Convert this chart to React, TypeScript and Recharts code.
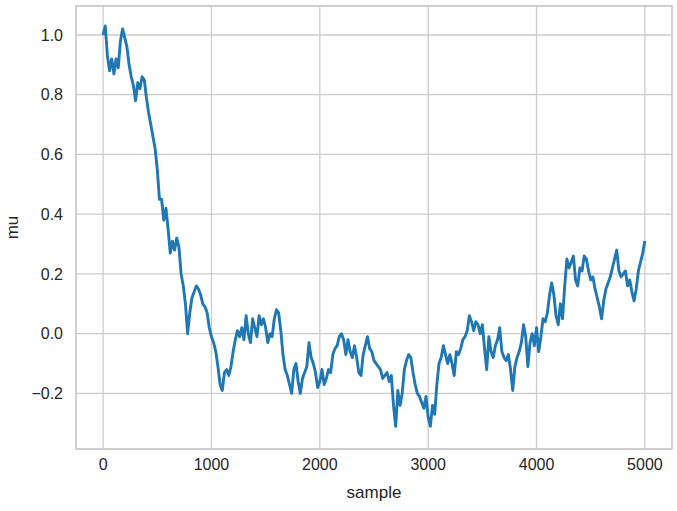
import React from 'react';
import { LineChart, Line, XAxis, YAxis, CartesianGrid, ReferenceArea } from 'recharts';

// sample index step between consecutive readings
const SAMPLE_STEP = 20;
const LAST_SAMPLE = 4999;

// mu values, one every 20 samples (0 .. 4980), then the final sample
const mu0to980 = [
  1.00, 1.03, 0.93, 0.88, 0.92, 0.87, 0.92, 0.89, 0.98, 1.02,
  0.99, 0.96, 0.90, 0.86, 0.83, 0.78, 0.84, 0.82, 0.86, 0.85,
  0.79, 0.74, 0.70, 0.66, 0.62, 0.55, 0.45, 0.45, 0.38, 0.42,
  0.35, 0.27, 0.31, 0.28, 0.32, 0.29, 0.20, 0.16, 0.10, 0.00,
  0.07, 0.12, 0.14, 0.16, 0.15, 0.13, 0.10, 0.09, 0.07, 0.02,
];
const mu1000to1980 = [
  -0.01, -0.03, -0.06, -0.11, -0.17, -0.19, -0.13, -0.12, -0.14, -0.11,
  -0.06, -0.02, 0.01, -0.01, 0.02, -0.02, 0.06, 0.00, -0.03, 0.05,
  0.02, -0.01, 0.06, 0.03, 0.05, 0.02, -0.03, 0.00, -0.01, 0.05,
  0.08, 0.07, 0.01, -0.07, -0.12, -0.14, -0.17, -0.20, -0.12, -0.10,
  -0.16, -0.20, -0.15, -0.13, -0.11, -0.03, -0.08, -0.10, -0.13, -0.18,
];
const mu2000to2980 = [
  -0.16, -0.12, -0.17, -0.15, -0.12, -0.13, -0.07, -0.05, -0.04, -0.01,
  0.00, -0.02, -0.07, -0.02, -0.06, -0.08, -0.04, -0.08, -0.13, -0.14,
  -0.07, -0.04, -0.01, -0.05, -0.06, -0.09, -0.10, -0.11, -0.12, -0.15,
  -0.14, -0.13, -0.16, -0.14, -0.24, -0.31, -0.19, -0.24, -0.20, -0.12,
  -0.09, -0.07, -0.08, -0.13, -0.17, -0.20, -0.21, -0.23, -0.25, -0.21,
];
const mu3000to3980 = [
  -0.28, -0.31, -0.24, -0.27, -0.17, -0.10, -0.08, -0.04, -0.07, -0.10,
  -0.07, -0.10, -0.14, -0.06, -0.07, -0.05, -0.02, -0.01, 0.01, 0.06,
  0.04, 0.01, 0.04, 0.03, 0.00, 0.03, -0.05, -0.12, -0.01, -0.06,
  -0.08, -0.04, -0.02, 0.02, -0.06, -0.08, -0.09, -0.07, -0.12, -0.19,
  -0.11, -0.08, -0.06, -0.03, 0.03, -0.01, -0.11, -0.03, 0.00, -0.04,
];
const mu4000to4980 = [
  0.02, -0.06, -0.01, 0.05, 0.04, 0.07, 0.13, 0.17, 0.13, 0.06,
  0.03, 0.10, 0.05, 0.16, 0.25, 0.22, 0.24, 0.26, 0.18, 0.16,
  0.22, 0.21, 0.26, 0.25, 0.21, 0.18, 0.19, 0.15, 0.12, 0.09,
  0.05, 0.11, 0.15, 0.17, 0.19, 0.22, 0.25, 0.28, 0.21, 0.19,
  0.20, 0.21, 0.16, 0.18, 0.14, 0.11, 0.15, 0.21, 0.24, 0.27,
];
const muLast = 0.31;

const xTicks = [0, 1000, 2000, 3000, 4000, 5000];
const yTicks = [-0.2, 0.0, 0.2, 0.4, 0.6, 0.8, 1.0];
const xDomain = [-250, 5250];
const yDomain = [-0.386, 1.097];

const muSeries = [...mu0to980, ...mu1000to1980, ...mu2000to2980, ...mu3000to3980, ...mu4000to4980];
const data = [
  ...muSeries.map((v, i) => ({ sample: i * SAMPLE_STEP, mu: v })),
  { sample: LAST_SAMPLE, mu: muLast },
];

const FONT = '"Liberation Sans", Arial, "DejaVu Sans", sans-serif';
const TEXT = '#262626';
const GRID = '#cccccc';

const fmtY = (v: number) => {
  const s = Math.abs(v).toFixed(1);
  return v < -1e-9 ? '\u2212' + s : s;
};

export default function App() {
  return (
    <div style={{ position: 'absolute', left: 0, top: 0, width: 677, height: 511, background: '#fff' }}>
      <LineChart
        width={677}
        height={511}
        data={data}
        margin={{ top: 6, right: 5, left: 0, bottom: 0 }}
        style={{ fontFamily: FONT }}
      >
        <CartesianGrid stroke={GRID} strokeWidth={1.3} />
        <ReferenceArea
          x1={xDomain[0]}
          x2={xDomain[1]}
          y1={yDomain[0]}
          y2={yDomain[1]}
          fill="none"
          fillOpacity={0}
          stroke={GRID}
          strokeWidth={1.5}
          ifOverflow="visible"
        />
        <XAxis
          dataKey="sample"
          type="number"
          domain={xDomain}
          ticks={xTicks}
          allowDataOverflow
          height={62}
          axisLine={false}
          tickLine={false}
          tickSize={8}
          tickMargin={2}
          tick={{ fill: TEXT, fontSize: 16, fontFamily: FONT }}
          label={{ value: 'sample', position: 'center', dy: 12, fill: TEXT, fontSize: 17, fontFamily: FONT }}
        />
        <YAxis
          type="number"
          domain={yDomain}
          ticks={yTicks}
          allowDataOverflow
          width={76}
          axisLine={false}
          tickLine={false}
          tickSize={10}
          tickMargin={3}
          tickFormatter={fmtY}
          tick={{ fill: TEXT, fontSize: 16, fontFamily: FONT }}
          label={{ value: 'mu', angle: -90, position: 'center', dx: -26, fill: TEXT, fontSize: 17, fontFamily: FONT }}
        />
        <Line
          type="linear"
          dataKey="mu"
          stroke="#1f77b4"
          strokeWidth={2.9}
          dot={false}
          isAnimationActive={false}
          strokeLinejoin="round"
        />
      </LineChart>
    </div>
  );
}
